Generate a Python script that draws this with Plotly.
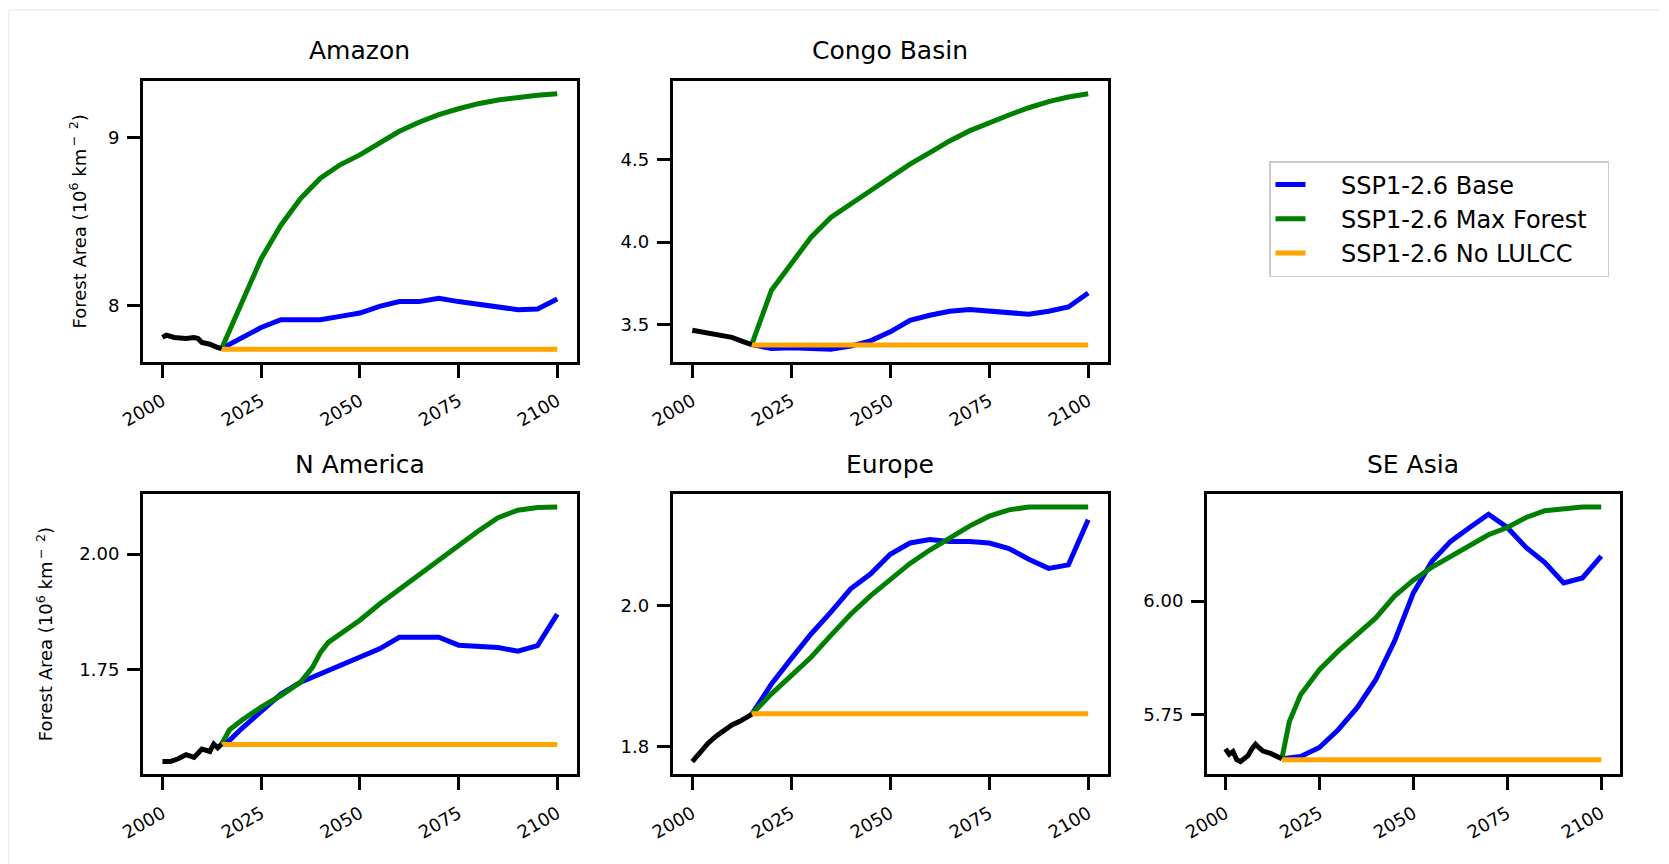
import plotly.graph_objects as go

# ---------------- data ----------------
REGIONS = ["Amazon", "Congo Basin", "N America", "Europe", "SE Asia"]
SERIES_NAMES = ["SSP1-2.6 Base", "SSP1-2.6 Max Forest", "SSP1-2.6 No LULCC"]
X_TICKS = [2000, 2025, 2050, 2075, 2100]

FUT_YEARS = [2015, 2020, 2025, 2030, 2035, 2040, 2045, 2050, 2055, 2060,
             2065, 2070, 2075, 2080, 2085, 2090, 2095, 2100]
FLAT_YEARS = [2015, 2100]

# Amazon
AMZ_HIST_YEARS = [2000, 2001, 2003, 2006, 2008, 2009, 2010, 2012, 2014, 2015]
AMZ_HIST = [7.811, 7.825, 7.811, 7.805, 7.811, 7.805, 7.781, 7.771, 7.751, 7.745]
AMZ_BASE = [7.745, 7.81, 7.87, 7.916, 7.916, 7.916, 7.936, 7.956, 7.996, 8.024,
            8.024, 8.044, 8.024, 8.01, 7.996, 7.976, 7.98, 8.04]
AMZ_MAX = [7.745, 8.02, 8.279, 8.478, 8.637, 8.757, 8.837, 8.896, 8.97, 9.036,
           9.09, 9.135, 9.17, 9.2, 9.222, 9.239, 9.25, 9.259]
AMZ_NOLU = [7.741, 7.741]
AMZ_TICKS = [8, 9]
AMZ_TICKTEXT = ["8", "9"]

# Congo Basin
CON_HIST_YEARS = [2000, 2005, 2010, 2013, 2015]
CON_HIST = [3.464, 3.44, 3.42, 3.393, 3.376]
CON_BASE = [3.376, 3.353, 3.357, 3.353, 3.348, 3.367, 3.399, 3.454, 3.524, 3.555,
            3.579, 3.59, 3.581, 3.569, 3.561, 3.579, 3.605, 3.69]
CON_MAX = [3.376, 3.707, 3.869, 4.03, 4.15, 4.236, 4.313, 4.394, 4.475, 4.545,
           4.616, 4.677, 4.727, 4.774, 4.818, 4.855, 4.883, 4.903]
CON_NOLU = [3.373, 3.373]
CON_TICKS = [3.5, 4.0, 4.5]
CON_TICKTEXT = ["3.5", "4.0", "4.5"]

# N America
NAM_HIST_YEARS = [2000, 2002, 2004, 2006, 2008, 2010, 2012, 2013, 2014, 2015]
NAM_HIST = [1.551, 1.551, 1.557, 1.566, 1.56, 1.578, 1.573, 1.589, 1.581, 1.589]
NAM_BASE_YEARS = [2015, 2017, 2020, 2025, 2030, 2035, 2040, 2045, 2050, 2055,
                  2060, 2065, 2070, 2075, 2080, 2085, 2090, 2095, 2100]
NAM_BASE = [1.589, 1.597, 1.622, 1.658, 1.697, 1.723, 1.741, 1.759, 1.777, 1.795,
            1.82, 1.821, 1.82, 1.803, 1.8, 1.798, 1.79, 1.802, 1.87]
NAM_MAX_YEARS = [2015, 2017, 2020, 2025, 2030, 2035, 2038, 2040, 2042, 2045, 2050,
                 2055, 2060, 2065, 2070, 2075, 2080, 2085, 2090, 2095, 2100]
NAM_MAX = [1.589, 1.62, 1.64, 1.669, 1.694, 1.723, 1.755, 1.787, 1.809, 1.827,
           1.857, 1.892, 1.924, 1.957, 1.987, 2.02, 2.05, 2.079, 2.095, 2.101, 2.102]
NAM_NOLU = [1.588, 1.588]
NAM_TICKS = [1.75, 2.00]
NAM_TICKTEXT = ["1.75", "2.00"]

# Europe
EUR_HIST_YEARS = [2000, 2002, 2004, 2006, 2008, 2010, 2012, 2015]
EUR_HIST = [1.779, 1.793, 1.805, 1.815, 1.824, 1.831, 1.836, 1.846]
EUR_BASE = [1.846, 1.889, 1.925, 1.96, 1.991, 2.024, 2.045, 2.073, 2.089, 2.094,
            2.091, 2.091, 2.089, 2.081, 2.066, 2.053, 2.058, 2.122]
EUR_MAX = [1.846, 1.875, 1.901, 1.927, 1.958, 1.988, 2.014, 2.038, 2.06, 2.079,
           2.097, 2.113, 2.127, 2.136, 2.14, 2.14, 2.14, 2.14]
EUR_NOLU = [1.847, 1.847]
EUR_TICKS = [1.8, 2.0]
EUR_TICKTEXT = ["1.8", "2.0"]

# SE Asia
SEA_HIST_YEARS = [2000, 2001, 2002, 2003, 2004, 2005, 2006, 2007, 2008, 2009,
                  2010, 2012, 2014, 2015]
SEA_HIST = [5.675, 5.663, 5.669, 5.651, 5.647, 5.654, 5.66, 5.675, 5.685, 5.677,
            5.67, 5.665, 5.657, 5.653]
SEA_BASE = [5.653, 5.658, 5.678, 5.717, 5.765, 5.827, 5.912, 6.018, 6.088, 6.132,
            6.162, 6.191, 6.162, 6.118, 6.085, 6.04, 6.051, 6.099]
SEA_MAX_YEARS = [2015, 2017, 2020, 2025, 2030, 2035, 2040, 2045, 2050, 2055, 2060,
                 2065, 2070, 2075, 2080, 2085, 2090, 2095, 2100]
SEA_MAX = [5.653, 5.735, 5.794, 5.849, 5.89, 5.926, 5.963, 6.011, 6.046, 6.075,
           6.099, 6.125, 6.146, 6.162, 6.184, 6.199, 6.204, 6.207, 6.207]
SEA_NOLU = [5.651, 5.651]
SEA_TICKS = [5.75, 6.00]
SEA_TICKTEXT = ["5.75", "6.00"]

# ---------------- styling ----------------
W, H = 1669, 864
OFF_X, OFF_Y = 8, 7  # page body margin offset (px)
FONT = "DejaVu Sans"
TXT = "#000000"
C_BASE, C_MAX, C_NOLU, C_HIST = "#0000ff", "#008000", "#ffa500", "#000000"
LW = 5
NBSP = "\u00a0"


def px_x(x):
    return (x - OFF_X) / W


def px_y(y):
    return 1 - (y - OFF_Y) / H


# panel boxes in pixels of the screenshot: (left, right, top, bottom, ylabel_x)
PANELS_PX = [
    (142.7, 577.0, 80.0, 361.0, 78),
    (672.5, 1108.0, 80.0, 361.0, None),
    (142.7, 577.0, 493.3, 773.3, 45),
    (672.5, 1108.0, 493.3, 773.3, None),
    (1206.7, 1620.0, 493.3, 773.3, None),
]

panels = [
    dict(hx=AMZ_HIST_YEARS, hy=AMZ_HIST, bx=FUT_YEARS, by=AMZ_BASE, mx=FUT_YEARS, my=AMZ_MAX,
         ny=AMZ_NOLU, tv=AMZ_TICKS, tt=AMZ_TICKTEXT),
    dict(hx=CON_HIST_YEARS, hy=CON_HIST, bx=FUT_YEARS, by=CON_BASE, mx=FUT_YEARS, my=CON_MAX,
         ny=CON_NOLU, tv=CON_TICKS, tt=CON_TICKTEXT),
    dict(hx=NAM_HIST_YEARS, hy=NAM_HIST, bx=NAM_BASE_YEARS, by=NAM_BASE, mx=NAM_MAX_YEARS, my=NAM_MAX,
         ny=NAM_NOLU, tv=NAM_TICKS, tt=NAM_TICKTEXT),
    dict(hx=EUR_HIST_YEARS, hy=EUR_HIST, bx=FUT_YEARS, by=EUR_BASE, mx=FUT_YEARS, my=EUR_MAX,
         ny=EUR_NOLU, tv=EUR_TICKS, tt=EUR_TICKTEXT),
    dict(hx=SEA_HIST_YEARS, hy=SEA_HIST, bx=FUT_YEARS, by=SEA_BASE, mx=SEA_MAX_YEARS, my=SEA_MAX,
         ny=SEA_NOLU, tv=SEA_TICKS, tt=SEA_TICKTEXT),
]

fig = go.Figure()
layout = dict(
    width=W, height=H,
    margin=dict(l=0, r=0, t=0, b=0, autoexpand=False),
    paper_bgcolor="white", plot_bgcolor="white",
    font=dict(family=FONT, color=TXT),
    showlegend=True,
    legend=dict(x=px_x(1269), y=px_y(160), xanchor="left", yanchor="top",
                bgcolor="white", bordercolor="#cccccc", borderwidth=1.5,
                font=dict(family=FONT, size=24, color=TXT),
                tracegroupgap=0),
)


def leg(name):
    return NBSP * 4 + name + NBSP * 2


annotations = []
for i, (p, name, box) in enumerate(zip(panels, REGIONS, PANELS_PX)):
    idx = "" if i == 0 else str(i + 1)
    xa, ya = "x" + idx, "y" + idx
    l, r, t, b, ylx = box
    first = i == 0
    fig.add_trace(go.Scatter(x=p["bx"], y=p["by"], mode="lines", name=leg(SERIES_NAMES[0]),
                             line=dict(color=C_BASE, width=LW), xaxis=xa, yaxis=ya,
                             showlegend=first, legendgroup="base"))
    fig.add_trace(go.Scatter(x=p["mx"], y=p["my"], mode="lines", name=leg(SERIES_NAMES[1]),
                             line=dict(color=C_MAX, width=LW), xaxis=xa, yaxis=ya,
                             showlegend=first, legendgroup="max"))
    fig.add_trace(go.Scatter(x=FLAT_YEARS, y=p["ny"], mode="lines", name=leg(SERIES_NAMES[2]),
                             line=dict(color=C_NOLU, width=LW), xaxis=xa, yaxis=ya,
                             showlegend=first, legendgroup="nolu"))
    fig.add_trace(go.Scatter(x=p["hx"], y=p["hy"], mode="lines", name="Historical",
                             line=dict(color=C_HIST, width=LW), xaxis=xa, yaxis=ya,
                             showlegend=False))

    allv = p["hy"] + p["by"] + p["my"] + p["ny"]
    lo, hi = min(allv), max(allv)
    pad = 0.05 * (hi - lo)
    axis_common = dict(showline=True, mirror=True, linecolor="black", linewidth=2.5,
                       ticks="outside", ticklen=13, tickwidth=2.5, tickcolor="black",
                       showgrid=False, zeroline=False, automargin=False,
                       tickfont=dict(family=FONT, size=18, color=TXT))
    layout["xaxis" + idx] = dict(domain=[px_x(l), px_x(r)], anchor=ya, range=[1995, 2105],
                                 tickvals=X_TICKS, ticktext=[str(v) for v in X_TICKS],
                                 tickangle=-30, ticklabelstandoff=6, **axis_common)
    layout["yaxis" + idx] = dict(domain=[px_y(b), px_y(t)], anchor=xa,
                                 range=[lo - pad, hi + pad], tickvals=p["tv"], ticktext=p["tt"],
                                 ticklabelstandoff=4, **axis_common)
    annotations.append(dict(text=name, x=px_x((l + r) / 2), y=px_y(t - 30),
                            xref="paper", yref="paper", xanchor="center", yanchor="middle",
                            showarrow=False, font=dict(family=FONT, size=25, color=TXT)))
    if ylx is not None:
        annotations.append(dict(
            text="Forest Area (10<sup>6</sup>" + NBSP + "km<sup>\u2009\u2212\u2009" + NBSP + "2</sup>)",
            x=px_x(ylx), y=px_y((t + b) / 2), xref="paper", yref="paper",
            xanchor="center", yanchor="middle", textangle=-90,
            showarrow=False, font=dict(family=FONT, size=18, color=TXT)))

layout["annotations"] = annotations
layout["shapes"] = [dict(type="rect", xref="paper", yref="paper", x0=0.0004, y0=-0.02,
                         x1=1.02, y1=px_y(9), line=dict(color="#e6e6e6", width=1),
                         fillcolor="rgba(0,0,0,0)", layer="below")]
fig.update_layout(**layout)
fig.write_html("out.html")
